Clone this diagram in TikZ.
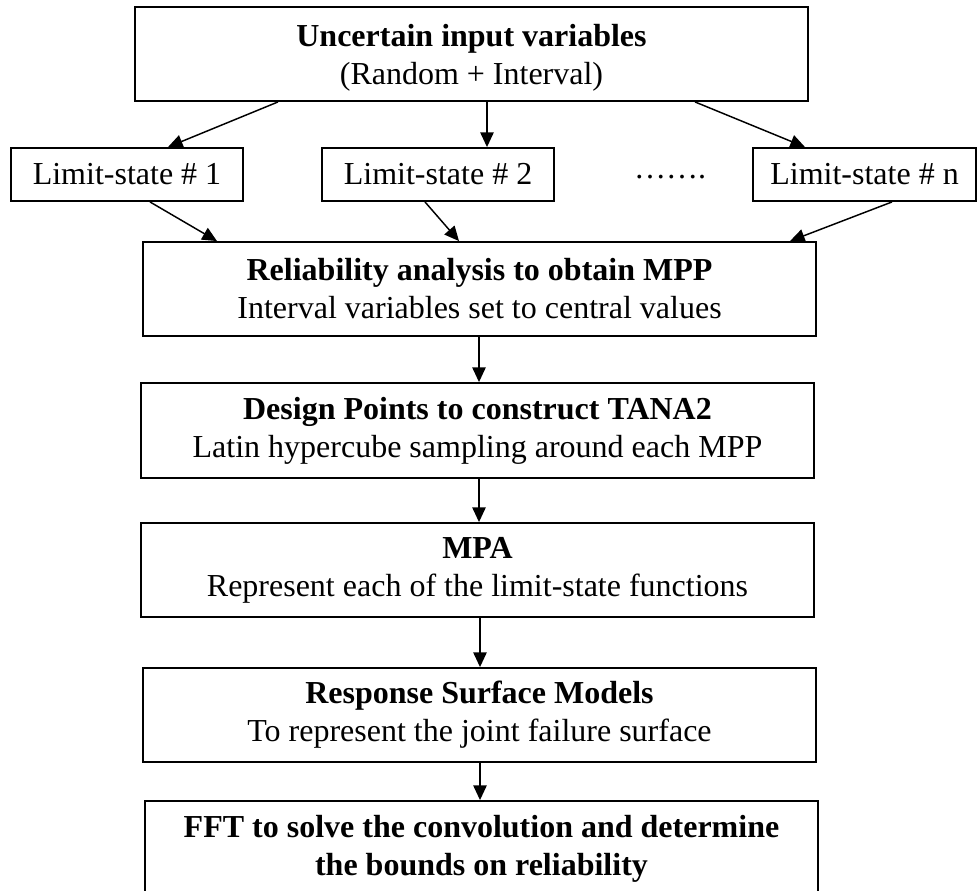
\documentclass[tikz,border=0pt]{standalone}
\usepackage{fontspec}
\setmainfont{Liberation Serif}
\usetikzlibrary{arrows.meta}
\tikzset{
  txt/.style={font=\fontsize{24}{28.5}\selectfont, align=center, inner sep=0pt},
  box/.style={draw=black, line width=1.4pt, rectangle, inner sep=0pt,
    minimum width=#1*0.75pt, txt},
  bigbox/.style={box=673, minimum height=94*0.75pt},
  lsbox/.style={box=#1, minimum height=53*0.75pt},
  arr/.style={line width=1.1pt, -{Triangle[length=11pt,width=10pt]}}
}
\begin{document}
\begin{tikzpicture}[x=0.75pt,y=-0.75pt]
\useasboundingbox (0,0) rectangle (977,890);
\clip (0,0) rectangle (977,890);
\node[bigbox] (top) at (471.5,54) {};
\node[txt] (toptext) at (471.5,58) {\textbf{Uncertain input variables}\\(Random + Interval)};
\node[lsbox=232] (ls1) at (127,174.5) {Limit-state \# 1};
\node[lsbox=232] (ls2) at (438,174.5) {Limit-state \# 2};
\node[lsbox=223] (lsn) at (864.5,174.5) {Limit-state \# n};
\node[txt] (dots) at (670,177) {…….};
\node[bigbox] (rel) at (479.5,289) {\textbf{Reliability analysis to obtain MPP}\\Interval variables set to central values};
\node[bigbox, minimum height=95*0.75pt] (des) at (477.5,430.5) {\textbf{Design Points to construct TANA2}\\Latin hypercube sampling around each MPP};
\node[bigbox] (mpa) at (477.5,570) {\textbf{MPA}\\Represent each of the limit-state functions};
\node[bigbox] (rs) at (479.5,715) {\textbf{Response Surface Models}\\To represent the joint failure surface};
\node[bigbox, minimum height=95*0.75pt] (fft) at (481.5,848.5) {\textbf{FFT to solve the convolution and determine}\\\textbf{the bounds on reliability}};
\draw[arr] (top.south -| 278,0) -- (ls1.north -| 168,0);
\draw[arr] (top.south -| 487,0) -- (ls2.north -| 487,0);
\draw[arr] (top.south -| 695,0) -- (lsn.north -| 805,0);
\draw[arr] (ls1.south -| 150,0) -- (rel.north -| 217,0);
\draw[arr] (ls2.south -| 425,0) -- (rel.north -| 459,0);
\draw[arr] (lsn.south -| 892,0) -- (rel.north -| 790,0);
\draw[arr] (rel.south -| 479,0) -- (des.north -| 479,0);
\draw[arr] (des.south -| 479,0) -- (mpa.north -| 479,0);
\draw[arr] (mpa.south -| 480,0) -- (rs.north -| 480,0);
\draw[arr] (rs.south -| 480,0) -- (fft.north -| 480,0);
\end{tikzpicture}
\end{document}
